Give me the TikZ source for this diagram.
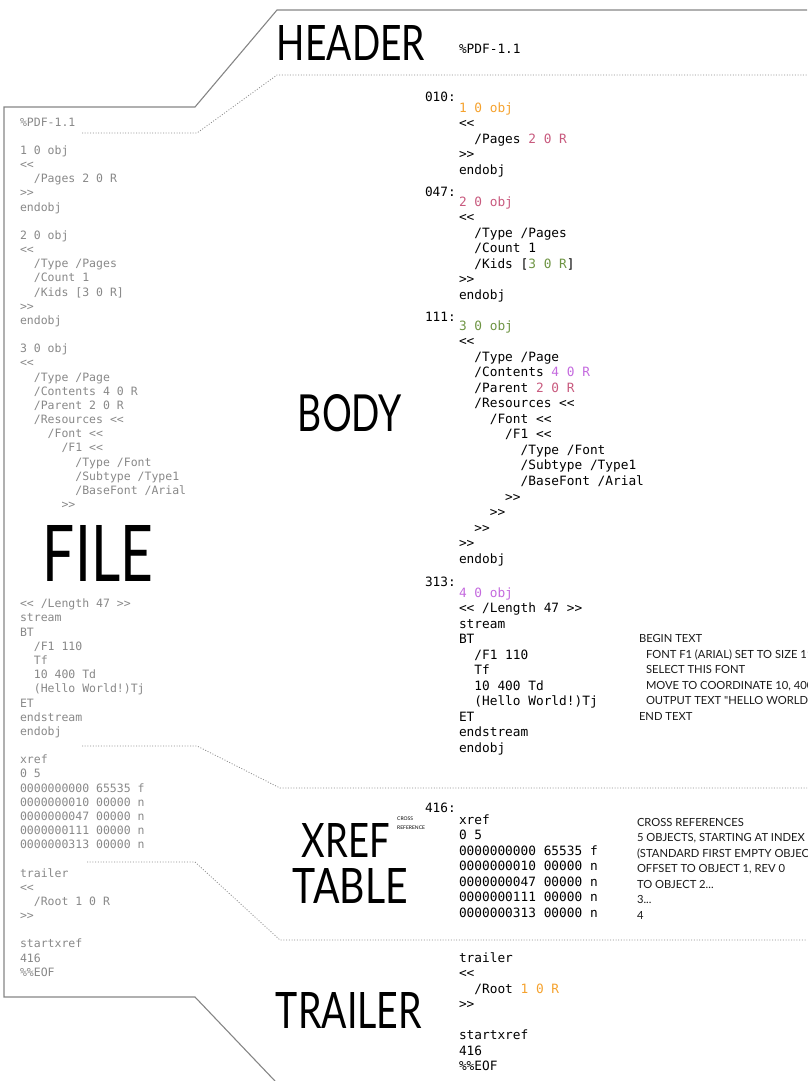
\documentclass[tikz,border=0pt]{standalone}
\usepackage{fontspec}
\usepackage{graphicx}
\newfontfamily\codefont{DejaVu Sans Mono}
\newfontfamily\handfont{Lato}
\newfontfamily\annfont{Lato}
\definecolor{objA}{HTML}{F5A22E}
\definecolor{objB}{HTML}{C85A7E}
\definecolor{objC}{HTML}{6E9443}
\definecolor{objD}{HTML}{C46ADE}
\definecolor{linegray}{HTML}{858585}
\definecolor{dotgray}{HTML}{8C8C8C}
\definecolor{leftgray}{HTML}{888888}
\newcommand\In{\hphantom{00}}
\newcommand\LL{<\kern0pt<}
\newcommand\GG{>\kern0pt>}
\tikzset{
  rcode/.style={anchor=north west, inner sep=0pt, outer sep=0pt, align=left,
    font=\codefont\fontsize{12.8}{15.55}\selectfont, text=black, yshift=10.885pt},
  lcode/.style={anchor=north west, inner sep=0pt, outer sep=0pt, align=left,
    font=\codefont\fontsize{11.5}{14.17}\selectfont, text=leftgray, yshift=9.919pt},
  annot/.style={anchor=north west, inner sep=0pt, outer sep=0pt, align=left,
    font=\annfont\fontsize{11.2}{15.55}\selectfont, text=black!90, yshift=10.885pt},
  biglabel/.style={anchor=center, inner sep=0pt, outer sep=0pt, text=black},
  outline/.style={draw=linegray, line width=1.1pt},
  dotline/.style={draw=dotgray, line width=0.8pt, dash pattern=on 1pt off 1.7pt}
}
\begin{document}
\begin{tikzpicture}[x=1pt,y=-1pt]
\useasboundingbox (0,0) rectangle (807,1081);
\clip (0,0) rectangle (807,1081);

% outline of the file panel
\draw[outline] (807,10) -- (277,10) -- (195,107) -- (4,107) -- (4,997) -- (195,997) -- (275,1081);

% dotted section separators
\draw[dotline] (82,133) -- (197,133) -- (277,75) -- (807,75);
\draw[dotline] (82,746) -- (197,746) -- (280,788) -- (807,788);
\draw[dotline] (87,862) -- (195,862) -- (280,940) -- (807,940);

% big labels
\node[biglabel] (header) at (351,42.5) {\resizebox{148pt}{35pt}{\handfont HEADER}};
\node[biglabel] (body) at (350,413.5) {\resizebox{104pt}{37pt}{\handfont BODY}};
\node[biglabel] (file) at (98,553) {\resizebox{110pt}{56pt}{\handfont FILE}};
\node[biglabel] (xreflbl) at (346,840) {\resizebox{88pt}{34pt}{\handfont XREF}};
\node[biglabel] (tablelbl) at (350.5,885.5) {\resizebox{115pt}{35pt}{\handfont TABLE}};
\node[biglabel] (trailerlbl) at (349,1010) {\resizebox{146pt}{36pt}{\handfont TRAILER}};
\node[anchor=west, inner sep=0pt, align=left, font=\annfont\fontsize{5}{9}\selectfont] (crossref) at (397,823.5) {CROSS\\REFERENCE};

% left: whole file
\node[lcode] (lefttop) at (20,126) {\strut\%PDF-1.1\\\strut\\
1 0 obj\\\LL\\\In/Pages 2 0 R\\\GG\\endobj\\\strut\\
2 0 obj\\\LL\\\In/Type /Pages\\\In/Count 1\\\In/Kids [3 0 R]\\\GG\\endobj\\\strut\\
3 0 obj\\\LL\\\In/Type /Page\\\In/Contents 4 0 R\\\In/Parent 2 0 R\\\In/Resources \LL\\
\In\In/Font \LL\\\In\In\In/F1 \LL\\\In\In\In\In/Type /Font\\\In\In\In\In/Subtype /Type1\\
\In\In\In\In/BaseFont /Arial\\\In\In\In\GG};
\node[lcode] (leftbottom) at (20,607.8) {\strut\LL{} /Length 47 \GG\\stream\\BT\\\In/F1 110\\\In Tf\\
\In 10 400 Td\\\In(Hello World!)Tj\\ET\\endstream\\endobj\\\strut\\
xref\\0 5\\0000000000 65535 f\\0000000010 00000 n\\0000000047 00000 n\\0000000111 00000 n\\0000000313 00000 n\\\strut\\
trailer\\\LL\\\In/Root 1 0 R\\\GG\\\strut\\startxref\\416\\\%\%EOF};

% right: header
\node[rcode] (pdfver) at (459,54) {\strut\%PDF-1.1};

% offsets
\node[rcode] (off1) at (425,101) {\strut 010:};
\node[rcode] (off2) at (425,196) {\strut 047:};
\node[rcode] (off3) at (425,321) {\strut 111:};
\node[rcode] (off4) at (425,586) {\strut 313:};
\node[rcode] (off5) at (425,812) {\strut 416:};

% body objects
\node[rcode] (obj1) at (459,112) {\strut\textcolor{objA}{1 0 obj}\\\LL\\\In/Pages \textcolor{objB}{2 0 R}\\\GG\\endobj};
\node[rcode] (obj2) at (459,206) {\strut\textcolor{objB}{2 0 obj}\\\LL\\\In/Type /Pages\\\In/Count 1\\\In/Kids [\textcolor{objC}{3 0 R}]\\\GG\\endobj};
\node[rcode] (obj3) at (459,330) {\strut\textcolor{objC}{3 0 obj}\\\LL\\\In/Type /Page\\\In/Contents \textcolor{objD}{4 0 R}\\
\In/Parent \textcolor{objB}{2 0 R}\\\In/Resources \LL\\\In\In/Font \LL\\\In\In\In/F1 \LL\\
\In\In\In\In/Type /Font\\\In\In\In\In/Subtype /Type1\\\In\In\In\In/BaseFont /Arial\\
\In\In\In\GG\\\In\In\GG\\\In\GG\\\GG\\endobj};
\node[rcode] (obj4) at (459,597) {\strut\textcolor{objD}{4 0 obj}\\\LL{} /Length 47 \GG\\stream\\BT\\\In/F1 110\\\In Tf\\
\In 10 400 Td\\\In(Hello World!)Tj\\ET\\endstream\\endobj};

% xref table and trailer
\node[rcode] (xref) at (459,824) {\strut xref\\0 5\\0000000000 65535 f\\0000000010 00000 n\\0000000047 00000 n\\0000000111 00000 n\\0000000313 00000 n};
\node[rcode] (trailer) at (459,962) {\strut trailer\\\LL\\\In/Root \textcolor{objA}{1 0 R}\\\GG\\\strut\\startxref\\416\\\%\%EOF};

% annotations
\node[annot] (annstream) at (639,642.6) {\strut BEGIN TEXT\\\hspace*{7pt}FONT F1 (ARIAL) SET TO SIZE 110\\\hspace*{7pt}SELECT THIS FONT\\
\hspace*{7pt}MOVE TO COORDINATE 10, 400\\\hspace*{7pt}OUTPUT TEXT "HELLO WORLD!"\\END TEXT};
\node[annot] (annxref) at (637,826) {\strut CROSS REFERENCES\\5 OBJECTS, STARTING AT INDEX 0\\(STANDARD FIRST EMPTY OBJECT)\\
OFFSET TO OBJECT 1, REV 0\\TO OBJECT 2...\\3...\\4};
\end{tikzpicture}
\end{document}
